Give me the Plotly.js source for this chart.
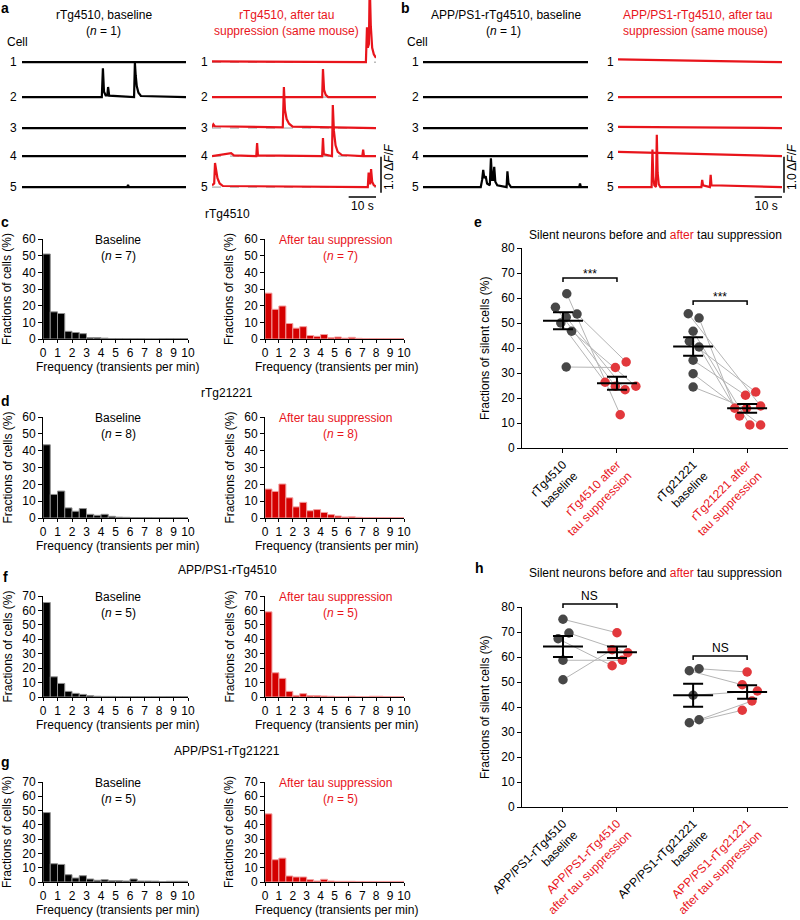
<!DOCTYPE html>
<html>
<head>
<meta charset="utf-8">
<script src="https://cdn.plot.ly/plotly-3.0.1.min.js"></script>
<style>body{margin:0;background:#fff}#fig{width:800px;height:920px}</style>
</head>
<body>
<div id="fig"></div>
<script>
// ---------- calcium traces: [time s, dF/F] per cell ----------
var aBaseCells = [
    [[0, 0], [60, 0]],
    [[0, 0], [29.2, 0], [29.6, 0.8], [30.0, 0.15], [30.6, 0.05], [31.2, 0.05], [31.5, 0.28], [31.9, 0.04], [41.0, 0], [41.3, 0.95], [41.6, 0.6], [42.0, 0.3], [42.6, 0.12], [43.5, 0.03], [60, 0]],
    [[0, 0], [60, 0]],
    [[0, 0], [60, 0]],
    [[0, 0], [38.5, 0], [38.8, 0.06], [39.1, 0], [60, 0]]
];
var aAfterCells = [
    [[0, 0.02], [56.3, 0], [56.7, 0.97], [57.0, 0.4], [57.4, 0.5], [57.7, 2.2], [58.1, 1.0], [58.6, 0.4], [59.2, 0.22], [60, 0.12]],
    [[0, 0], [40.3, 0], [40.6, 0.78], [41.0, 0.2], [41.6, 0.06], [42.5, 0], [60, 0]],
    [[0, 0.02], [0.5, 0.1], [1.0, 0.05], [20, 0.02], [25.9, 0.02], [26.3, 1.14], [26.7, 0.5], [27.3, 0.25], [28.2, 0.12], [29.5, 0.04], [60, 0]],
    [[0, 0], [5, 0.05], [7, 0.08], [8, 0.02], [16.2, 0], [16.5, 0.36], [16.8, 0.02], [40.3, 0], [40.6, 0.5], [40.9, 0.05], [43.9, 0], [44.2, 1.42], [44.6, 0.7], [45.2, 0.3], [46.0, 0.12], [47.5, 0.03], [55.0, 0], [55.3, 0.18], [55.6, 0], [60, 0]],
    [[0, 0.05], [0.8, 0.1], [1.1, 0.67], [1.5, 0.5], [2.0, 0.25], [2.8, 0.1], [4.0, 0.03], [57.0, 0], [57.3, 0.4], [57.6, 0.1], [57.9, 0.1], [58.2, 0.5], [58.6, 0.15], [59.2, 0.05], [60, 0.02]]
];
var bBaseCells = [
    [[0, 0], [60, 0]],
    [[0, 0], [60, 0]],
    [[0, 0], [60, 0]],
    [[0, 0], [60, 0]],
    [[0, 0], [21.0, 0], [21.5, 0.2], [21.9, 0.48], [22.3, 0.25], [22.8, 0.3], [23.3, 0.1], [24.3, 0.05], [24.7, 0.8], [25.1, 0.2], [25.5, 0.2], [25.9, 0.56], [26.3, 0.15], [27.0, 0.05], [30.4, 0], [30.7, 0.44], [31.1, 0.1], [32.0, 0], [56.8, 0], [57.1, 0.1], [57.4, 0], [60, 0]]
];
var bAfterCells = [
    [[0, 0.08], [60, 0]],
    [[0, 0], [60, 0]],
    [[0, 0.03], [60, 0]],
    [[0, 0.12], [60, 0]],
    [[0, 0], [12.3, 0], [12.6, 1.04], [12.9, 0.3], [13.3, 0.05], [13.9, 0], [14.2, 1.45], [14.5, 0.4], [14.9, 0.08], [15.5, 0], [30.5, 0], [30.8, 0.2], [31.1, 0.05], [33.6, 0], [33.9, 0.34], [34.2, 0.05], [60, 0]]
];

// ---------- histograms: fractions of cells (%) per 0.5/min bin ----------
var freqBins = [0.25, 0.75, 1.25, 1.75, 2.25, 2.75, 3.25, 3.75, 4.25, 4.75, 5.25, 5.75, 6.25, 6.75, 7.25, 7.75, 8.25, 8.75, 9.25, 9.75];
var c4510Base = [51, 16.3, 15.3, 4.6, 3.9, 3.2, 0.8, 0.8, 0.5, 0.3, 0.3, 0.2, 0.2, 0.2, 0.1, 0.1, 0.2, 0.3, 0.2, 0.3];
var c4510After = [27.5, 17.8, 19.8, 9.3, 6.5, 7.4, 2.1, 1.6, 2.7, 0.8, 1.2, 0.5, 1.0, 0.4, 0.3, 0.3, 0.3, 0.2, 0.2, 0.2];
var d21221Base = [43.5, 14, 16, 6, 4, 5.6, 2.2, 1.6, 2.2, 1.0, 0.5, 0.4, 0.3, 0.3, 0.3, 0.2, 0.2, 0.2, 0.2, 0.2];
var d21221After = [17.2, 15.8, 20.2, 12, 6.6, 9.3, 4.3, 5, 3.3, 2, 1.2, 0.6, 0.7, 0.4, 0.3, 0.3, 0.3, 0.2, 0.2, 0.2];
var f4510Base = [65.5, 14, 9.4, 3.9, 2.5, 1.8, 0.9, 0.5, 0.4, 0.4, 0.3, 0.3, 0.3, 0.3, 0.2, 0.3, 0.2, 0.3, 0.3, 0.3];
var f4510After = [59, 16.8, 12.9, 3.9, 1.1, 2.3, 0.9, 0.9, 0.7, 0.5, 0.3, 0.3, 0.5, 0.3, 0.2, 0.5, 0.5, 0.3, 0.2, 0.2];
var g21221Base = [48.6, 12.8, 12.3, 5.1, 2.8, 4.4, 2.1, 1.2, 1.6, 0.9, 0.9, 0.7, 2.1, 0.7, 0.7, 0.6, 0.2, 0.5, 0.5, 0.5];
var g21221After = [47.7, 15.6, 16.7, 4.2, 3.5, 3.5, 1.6, 0.7, 1.9, 0.7, 0.5, 0.5, 0.5, 0.4, 0.4, 0.4, 0.4, 0.4, 0.4, 0.4];

// ---------- silent cells (%) per mouse, paired baseline -> after ----------
var e4510Base = [61.7, 56.3, 53.6, 52.3, 50.0, 46.7, 32.4];
var e4510After = [13.3, 24.7, 34.4, 23.3, 26.3, 24.7, 32.2];
var e21221Base = [53.7, 52.0, 46.7, 42.7, 40.4, 35.1, 29.7, 24.4];
var e21221After = [16.8, 15.9, 9.2, 22.4, 12.8, 21.1, 9.2, 15.9];
var eMeans = [50.9, 25.9, 40.6, 15.9];
var eSems = [3.4, 2.6, 3.7, 1.75];
var h4510Base = [75.1, 69.6, 67.3, 58.7, 50.9];
var h4510After = [69.7, 61.7, 56.5, 58.7, 62.9];
var h21221Base = [55.3, 54.5, 44.7, 34.9, 33.7];
var h21221After = [54.0, 48.9, 46.4, 42.4, 38.7];
var hMeans = [64.2, 61.9, 44.7, 46.0];
var hSems = [4.2, 2.3, 4.6, 2.7];

// horizontal scatter of the dots (category units)
var e4510BaseJit = [0.07, -0.14, 0.26, 0.06, -0.04, 0.16, 0.06];
var e4510AfterJit = [0.06, -0.03, 0.17, 0.15, -0.22, 0.35, -0.03];
var e21221BaseJit = [-0.09, 0.11, 0, -0.07, 0.11, 0, 0, 0];
var e21221AfterJit = [0.25, -0.23, 0.05, 0.16, -0.14, -0.03, 0.25, -0.01];
var h4510BaseJit = [0, 0.11, -0.09, 0, 0];
var h4510AfterJit = [0, 0.2, -0.09, 0.1, -0.09];
var h21221BaseJit = [0.11, -0.07, 0, 0.11, -0.07];
var h21221AfterJit = [0, -0.09, 0.19, 0.09, -0.09];

var eLabels = ['rTg4510<br>baseline', 'rTg4510 after<br>tau suppression', 'rTg21221<br>baseline', 'rTg21221 after<br>tau suppression'];
var hLabels = ['APP/PS1-rTg4510<br>baseline', 'APP/PS1-rTg4510<br>after tau suppression', 'APP/PS1-rTg21221<br>baseline', 'APP/PS1-rTg21221<br>after tau suppression'];

// ---------- layout helpers ----------
var FONT = 'Liberation Sans, Arial, Helvetica, sans-serif';
var RED = '#e8141b';
var RED_DOT = '#e2383c';
var GREY_DOT = '#474747';
var cellOffsets = [3.69, 2.72, 1.86, 1.08, 0.22];
var groupPos = [1, 2, 3.41, 4.41];

function X(p) { return p / 800; }
function Y(p) { return 1 - p / 920; }
function sfx(n) { return n === 1 ? '' : String(n); }
function redSpan(t) { return '<span style="color:' + RED + '">' + t + '</span>'; }
function redLines(t) { return t.split('<br>').map(redSpan).join('<br>'); }

var data = [];
var layout = {
    width: 800, height: 920,
    margin: { l: 0, r: 0, t: 0, b: 0 },
    showlegend: false,
    paper_bgcolor: '#fff',
    plot_bgcolor: 'rgba(0,0,0,0)',
    font: { family: FONT, size: 12, color: '#000' },
    bargap: 0,
    annotations: [],
    shapes: []
};

function note(text, x, y, opts) {
    var a = { text: text, x: X(x), y: Y(y), xref: 'paper', yref: 'paper', showarrow: false,
              xanchor: 'center', yanchor: 'middle', font: { family: FONT, size: 12, color: '#000' } };
    for (var k in (opts || {})) a[k] = opts[k];
    layout.annotations.push(a);
}

function tracePanel(n, x0, x1, cells, color, dashed, numX) {
    var s = sfx(n);
    layout['xaxis' + s] = { domain: [X(x0), X(x1)], range: [0, 60], visible: false, anchor: 'y' + s, fixedrange: true };
    layout['yaxis' + s] = { domain: [Y(195), 1], range: [0, 195 / 36], visible: false, anchor: 'x' + s, fixedrange: true };
    cells.forEach(function (pts, i) {
        var off = cellOffsets[i];
        if (dashed) {
            data.push({ x: [0, 60], y: [off, off], xaxis: 'x' + s, yaxis: 'y' + s, mode: 'lines',
                        line: { color: '#9a9a9a', width: 1, dash: 'dash' }, hoverinfo: 'skip' });
        }
        data.push({ x: pts.map(p => p[0]), y: pts.map(p => off + p[1]), xaxis: 'x' + s, yaxis: 'y' + s,
                    mode: 'lines', line: { color: color, width: 2.2 }, hoverinfo: 'skip' });
        layout.annotations.push({ text: String(i + 1), x: X(numX), y: off, xref: 'paper', yref: 'y' + s,
                                  showarrow: false, xanchor: 'center', yanchor: 'middle',
                                  font: { family: FONT, size: 12, color: '#000' } });
    });
}

var axisStyle = { showline: true, linecolor: '#000', linewidth: 1, ticks: 'outside', tickcolor: '#000',
                  tickwidth: 1, showgrid: false, zeroline: false, fixedrange: true,
                  tickfont: { family: FONT, size: 12, color: '#000' } };

function withStyle(o) {
    for (var k in axisStyle) if (!(k in o)) o[k] = axisStyle[k];
    return o;
}

function histPanel(n, x0, x1, yBot, yTop, ymax, values, red) {
    var s = sfx(n);
    layout['xaxis' + s] = withStyle({ domain: [X(x0), X(x1)], range: [0, 10], tick0: 0, dtick: 1, ticklen: 3, anchor: 'y' + s });
    layout['yaxis' + s] = withStyle({ domain: [Y(yBot), Y(yTop)], range: [0, ymax], dtick: 10, ticklen: 4, anchor: 'x' + s });
    data.push({ type: 'bar', x: freqBins, y: values, width: 0.5, xaxis: 'x' + s, yaxis: 'y' + s, hoverinfo: 'skip',
                marker: { color: red ? '#d40000' : '#000', line: { color: red ? '#f29c9c' : '#8f8f8f', width: 1 } } });
    var cx = (x0 + x1) / 2;
    note('Frequency (transients per min)', cx + 2, yBot + 28);
    note('Fractions of cells (%)', x0 - 36, (yBot + yTop) / 2, { textangle: -90 });
}

function dotPanel(n, yTop, yBot, groups, jits, means, sems, labels) {
    var s = sfx(n);
    layout['xaxis' + s] = withStyle({ domain: [X(522), X(788)], range: [0.241, 5.167], tickvals: groupPos,
                                      ticktext: labels, tickangle: -45, ticklen: 4, anchor: 'y' + s });
    layout['yaxis' + s] = withStyle({ domain: [Y(yBot), Y(yTop)], range: [0, 80], dtick: 10, ticklen: 4, anchor: 'x' + s });
    for (var k = 0; k < 2; k++) {
        var base = groups[2 * k], after = groups[2 * k + 1];
        var lx = [], ly = [];
        base.forEach(function (v, i) {
            lx.push(groupPos[2 * k] + jits[2 * k][i], groupPos[2 * k + 1] + jits[2 * k + 1][i], null);
            ly.push(v, after[i], null);
        });
        data.push({ x: lx, y: ly, xaxis: 'x' + s, yaxis: 'y' + s, mode: 'lines',
                    line: { color: '#b5b5b5', width: 1 }, hoverinfo: 'skip' });
    }
    groups.forEach(function (vals, g) {
        data.push({ x: vals.map((v, i) => groupPos[g] + jits[g][i]), y: vals, xaxis: 'x' + s, yaxis: 'y' + s,
                    mode: 'markers', marker: { size: 9.5, color: g % 2 ? RED_DOT : GREY_DOT }, hoverinfo: 'skip' });
    });
    data.push({ x: groupPos, y: means, xaxis: 'x' + s, yaxis: 'y' + s, mode: 'markers',
                marker: { size: 2, color: 'rgba(0,0,0,0)' }, hoverinfo: 'skip',
                error_y: { type: 'data', array: sems, width: 10, thickness: 2, color: '#000' },
                error_x: { type: 'constant', value: 0.37, width: 0, thickness: 2, color: '#000' } });
    note('Fractions of silent cells (%)', 485, (yTop + yBot) / 2, { textangle: -90 });
}

function bracket(n, xa, xb, yLine, yLeg, label, yText) {
    var s = sfx(n);
    layout.shapes.push({ type: 'path', xref: 'x' + s, yref: 'paper',
        path: 'M ' + xa + ',' + Y(yLeg) + ' L ' + xa + ',' + Y(yLine) + ' L ' + xb + ',' + Y(yLine) + ' L ' + xb + ',' + Y(yLeg),
        line: { color: '#000', width: 1.5 } });
    layout.annotations.push({ text: label, x: (xa + xb) / 2, y: Y(yText), xref: 'x' + s, yref: 'paper', showarrow: false,
                              xanchor: 'center', yanchor: 'middle', font: { family: FONT, size: 12, color: '#000' } });
}

// ---------- panels a, b ----------
tracePanel(1, 22, 186, aBaseCells, '#000', false, 13);
tracePanel(2, 212, 376, aAfterCells, RED, true, 205);
tracePanel(3, 423, 588, bBaseCells, '#000', false, 415);
tracePanel(4, 618, 782, bAfterCells, RED, false, 610);

note('<b>a</b>', 5, 8, { font: { family: FONT, size: 14, color: '#000' } });
note('<b>b</b>', 405, 8, { font: { family: FONT, size: 14, color: '#000' } });
note('rTg4510, baseline', 104, 15);
note('(<i>n</i> = 1)', 103, 31);
note('rTg4510, after tau', 286, 15, { font: { family: FONT, size: 12, color: RED } });
note('suppression (same mouse)', 286, 31, { font: { family: FONT, size: 12, color: RED } });
note('Cell', 17, 42);
note('APP/PS1-rTg4510, baseline', 506, 15);
note('(<i>n</i> = 1)', 503, 31);
note('APP/PS1-rTg4510, after tau', 697, 15, { font: { family: FONT, size: 12, color: RED } });
note('suppression (same mouse)', 695, 31, { font: { family: FONT, size: 12, color: RED } });
note('Cell', 417, 42);

// scale bars
[[2, 381, 389], [4, 784, 792]].forEach(function (sb) {
    var s = sfx(sb[0]);
    layout.shapes.push({ type: 'line', xref: 'paper', yref: 'y' + s, x0: X(sb[1]), x1: X(sb[1]), y0: 0.06, y1: 1.06,
                         line: { color: '#000', width: 1.5 } });
    layout.shapes.push({ type: 'line', xref: 'x' + s, yref: 'paper', x0: 50, x1: 60, y0: Y(197), y1: Y(197),
                         line: { color: '#000', width: 1.5 } });
    note('1.0 Δ<i>F</i>/<i>F</i>', sb[2], 167, { textangle: -90 });
});
note('10 s', 362, 206);
note('10 s', 766, 206);

// ---------- histograms c, d, f, g ----------
var histRows = [
    ['c', 'rTg4510', 214, 222, 339, 239, 60, c4510Base, c4510After, 7],
    ['d', 'rTg21221', 393, 401, 518, 417, 60, d21221Base, d21221After, 8],
    ['f', 'APP/PS1-rTg4510', 570, 577, 697, 596, 70, f4510Base, f4510After, 5],
    ['g', 'APP/PS1-rTg21221', 751, 762, 882, 782, 70, g21221Base, g21221After, 5]
];
histRows.forEach(function (r, i) {
    histPanel(5 + 2 * i, 43, 188, r[4], r[5], r[6], r[7], false);
    histPanel(6 + 2 * i, 265, 404, r[4], r[5], r[6], r[8], true);
    note('<b>' + r[0] + '</b>', 5, r[3], { font: { family: FONT, size: 14, color: '#000' } });
    note(r[1], 227, r[2]);
    note('Baseline', 118, r[5] + 1);
    note('(<i>n</i> = ' + r[9] + ')', 118, r[5] + 17);
    note('After tau suppression', 335, r[5] + 1, { font: { family: FONT, size: 12, color: RED } });
    note('(<i>n</i> = ' + r[9] + ')', 340, r[5] + 17, { font: { family: FONT, size: 12, color: RED } });
});

// ---------- dot plots e, h ----------
dotPanel(13, 248, 448, [e4510Base, e4510After, e21221Base, e21221After],
         [e4510BaseJit, e4510AfterJit, e21221BaseJit, e21221AfterJit], eMeans, eSems,
         [eLabels[0], redLines(eLabels[1]), eLabels[2], redLines(eLabels[3])]);
dotPanel(14, 607, 807, [h4510Base, h4510After, h21221Base, h21221After],
         [h4510BaseJit, h4510AfterJit, h21221BaseJit, h21221AfterJit], hMeans, hSems,
         [hLabels[0], redLines(hLabels[1]), hLabels[2], redLines(hLabels[3])]);

note('<b>e</b>', 478, 222, { font: { family: FONT, size: 14, color: '#000' } });
note('<b>h</b>', 479, 568, { font: { family: FONT, size: 14, color: '#000' } });
note('Silent neurons before and ' + redSpan('after') + ' tau suppression', 655, 235);
note('Silent neurons before and ' + redSpan('after') + ' tau suppression', 655, 573);

bracket(13, groupPos[0], groupPos[1], 278, 282, '***', 274);
bracket(13, groupPos[2], groupPos[3], 301, 305, '***', 297);
bracket(14, groupPos[0], groupPos[1], 604, 608, 'NS', 596);
bracket(14, groupPos[2], groupPos[3], 656, 660, 'NS', 648);

Plotly.newPlot('fig', data, layout, { staticPlot: true });
</script>
</body>
</html>
